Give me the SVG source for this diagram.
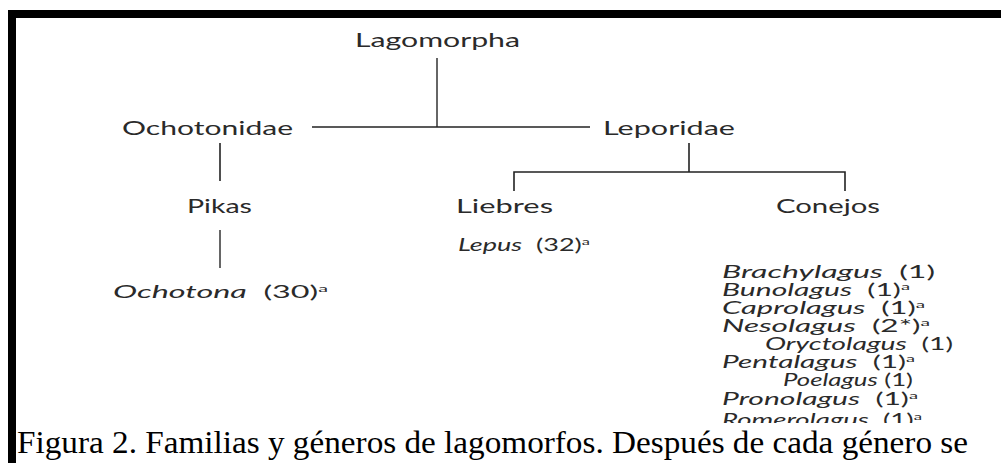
<svg xmlns="http://www.w3.org/2000/svg" width="1001" height="463" viewBox="0 0 1001 463">
<style>
.t{font-family:Lato,"Liberation Sans",sans-serif;font-size:19px;fill:#2a2a2a;white-space:pre;}
.s{font-size:16.5px;}
.i{font-style:italic;}
.sup{font-size:10px;}
.ln{stroke:#222;stroke-width:1.6;fill:none;}
.gl{stroke:#666;stroke-width:2;fill:none;}
.cap{font-family:"Liberation Serif","Times New Roman",serif;font-size:32px;fill:#000;}
</style>
<rect width="1001" height="463" fill="#fff"/>
<g id="connectors">
<line class="gl" x1="437" y1="58" x2="437" y2="127"/>
<line class="ln" x1="312" y1="127" x2="590" y2="127"/>
<line class="ln" x1="220" y1="143" x2="220" y2="181"/>
<line class="gl" x1="220" y1="230" x2="220" y2="268"/>
<line class="ln" x1="689" y1="143" x2="689" y2="172"/>
<path class="ln" d="M514 191 V172 H845 V191"/>
</g>
<g id="lagomorpha"><text class="t" x="355" y="47" textLength="165" lengthAdjust="spacingAndGlyphs">Lagomorpha</text></g>
<g id="ochotonidae"><text class="t" x="122" y="135" textLength="171" lengthAdjust="spacingAndGlyphs">Ochotonidae</text></g>
<g id="leporidae"><text class="t" x="603" y="135" textLength="132" lengthAdjust="spacingAndGlyphs">Leporidae</text></g>
<g id="pikas"><text class="t" x="187" y="213" textLength="65" lengthAdjust="spacingAndGlyphs">Pikas</text></g>
<g id="liebres"><text class="t" x="456" y="213" textLength="97" lengthAdjust="spacingAndGlyphs">Liebres</text></g>
<g id="conejos"><text class="t" x="776" y="213" textLength="104" lengthAdjust="spacingAndGlyphs">Conejos</text></g>
<g id="ochotona"><text class="t s" x="113" y="298" textLength="215" lengthAdjust="spacingAndGlyphs"><tspan class="i">Ochotona</tspan>  (30)<tspan class="sup" dy="-6">a</tspan></text></g>
<g id="lepus"><text class="t s" x="458" y="251" textLength="132" lengthAdjust="spacingAndGlyphs"><tspan class="i">Lepus</tspan>  (32)<tspan class="sup" dy="-6">a</tspan></text></g>
<g id="conejos-generos">
<text class="t s" x="722" y="278" textLength="213" lengthAdjust="spacingAndGlyphs"><tspan class="i">Brachylagus</tspan>  (1)</text>
<text class="t s" x="722" y="296" textLength="188" lengthAdjust="spacingAndGlyphs"><tspan class="i">Bunolagus</tspan>  (1)<tspan class="sup" dy="-6">a</tspan></text>
<text class="t s" x="722" y="314" textLength="203" lengthAdjust="spacingAndGlyphs"><tspan class="i">Caprolagus</tspan>  (1)<tspan class="sup" dy="-6">a</tspan></text>
<text class="t s" x="722" y="332" textLength="208" lengthAdjust="spacingAndGlyphs"><tspan class="i">Nesolagus</tspan>  (2*)<tspan class="sup" dy="-6">a</tspan></text>
<text class="t s" x="765" y="350" textLength="188" lengthAdjust="spacingAndGlyphs"><tspan class="i">Oryctolagus</tspan>  (1)</text>
<text class="t s" x="722" y="368" textLength="193" lengthAdjust="spacingAndGlyphs"><tspan class="i">Pentalagus</tspan>  (1)<tspan class="sup" dy="-6">a</tspan></text>
<text class="t s" x="783" y="386" textLength="130" lengthAdjust="spacingAndGlyphs"><tspan class="i">Poelagus</tspan> (1)</text>
<text class="t s" x="722" y="405" textLength="196" lengthAdjust="spacingAndGlyphs"><tspan class="i">Pronolagus</tspan>  (1)<tspan class="sup" dy="-6">a</tspan></text>
<text class="t s" x="722" y="426" textLength="200" lengthAdjust="spacingAndGlyphs"><tspan class="i">Romerolagus</tspan>  (1)<tspan class="sup" dy="-6">a</tspan></text>
</g>
<rect x="16" y="423" width="985" height="40" fill="#fff"/>
<rect x="8" y="10" width="993" height="8" fill="#000"/>
<rect x="8" y="10" width="8" height="453" fill="#000"/>
<g id="caption"><text class="cap" x="17" y="453" textLength="951" lengthAdjust="spacingAndGlyphs">Figura 2. Familias y géneros de lagomorfos. Después de cada género se</text></g>
</svg>
